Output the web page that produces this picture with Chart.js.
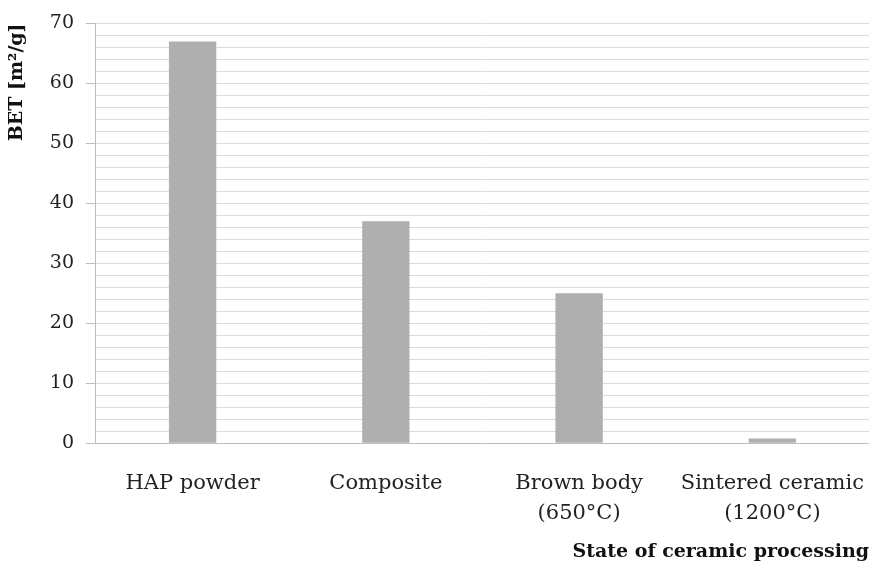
<!DOCTYPE html>
<html>
<head>
<meta charset="utf-8">
<script src="https://cdn.jsdelivr.net/npm/chart.js@4"></script>
<style>
  body { margin: 0; background: #fff; }
  #wrap { width: 869px; height: 566px; }
</style>
</head>
<body>
<div id="wrap"><canvas id="betChart" width="869" height="566"></canvas></div>
<script>
const categories = [['HAP powder'], ['Composite'], ['Brown body', '(650°C)'], ['Sintered ceramic', '(1200°C)']];
const betValues = [67, 37, 25, 0.8];
const yMin = 0;
const yMax = 70;
const yStep = 2;
const yLabelStep = 10;

const serif = '"DejaVu Serif", "Liberation Serif", serif';
const isMajor = v => v % yLabelStep === 0;

const ctx = document.getElementById('betChart').getContext('2d');
const chart = new Chart(ctx, {
  type: 'bar',
  data: {
    labels: categories,
    datasets: [
      {
        label: 'BET',
        data: betValues,
        backgroundColor: '#afafaf',
        borderWidth: 0,
        barPercentage: 0.245,
        categoryPercentage: 1
      }
    ]
  },
  options: {
    responsive: false,
    animation: false,
    devicePixelRatio: 1,
    layout: { padding: { top: 14, right: 0, left: 6, bottom: 3 } },
    plugins: {
      legend: { display: false },
      tooltip: { enabled: false }
    },
    scales: {
      x: {
        grid: { display: false, drawTicks: false },
        border: { color: '#bdbdbd', width: 1 },
        ticks: {
          color: '#222',
          font: { family: serif, size: 21, lineHeight: 1.45 },
          padding: 25,
          maxRotation: 0
        },
        // let the last label run past the plot edge, like the original
        afterFit: scale => {
          scale.paddingLeft = 0;
          scale.paddingRight = 0;
        },
        title: {
          display: true,
          text: 'State of ceramic processing',
          align: 'end',
          color: '#111',
          font: { family: serif, size: 19, weight: 'bold' },
          padding: { top: -14, bottom: 0 }
        }
      },
      y: {
        min: yMin,
        max: yMax,
        grid: {
          color: '#dcdcdc',
          lineWidth: 1,
          tickLength: 10,
          tickColor: c => isMajor(c.tick.value) ? '#bdbdbd' : 'rgba(0,0,0,0)'
        },
        border: { color: '#bdbdbd', width: 1 },
        ticks: {
          stepSize: yStep,
          autoSkip: false,
          color: '#222',
          font: { family: serif, size: 19 },
          padding: 12,
          callback: v => isMajor(v) ? v : ''
        },
        title: {
          display: true,
          text: 'BET [m²/g]',
          align: 'end',
          color: '#111',
          font: { family: serif, size: 19, weight: 'bold' },
          padding: { top: 0, bottom: 9 }
        }
      }
    }
  }
});
</script>
</body>
</html>
